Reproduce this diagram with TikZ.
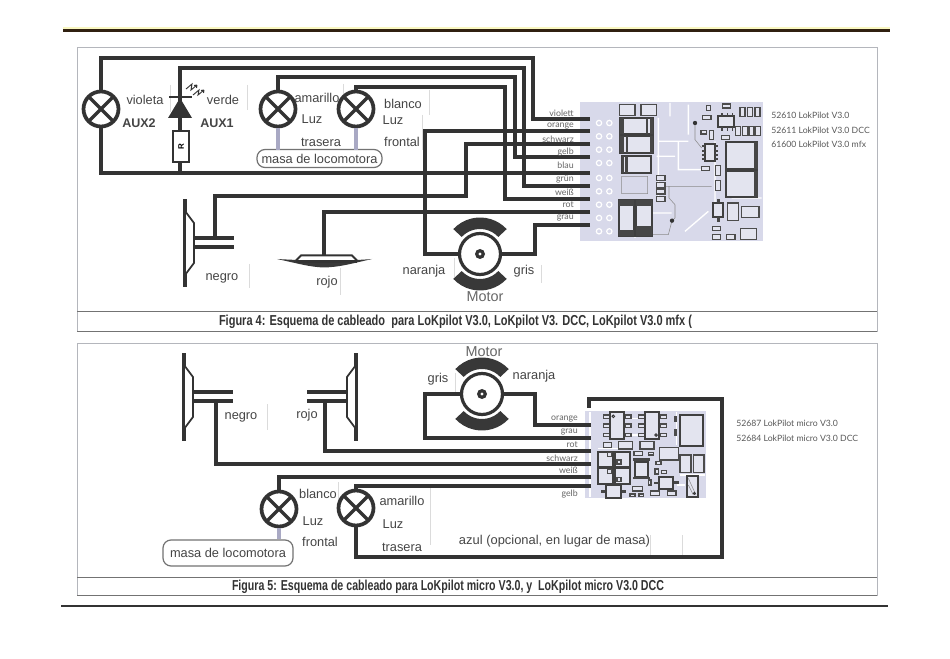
\documentclass[tikz,border=0pt]{standalone}
\usepackage{fontspec}
\usepackage{graphicx}
\setmainfont{Liberation Sans}
\newfontfamily\partfont{Lato}
\definecolor{ink}{HTML}{333333}
\definecolor{txt}{HTML}{454545}
\definecolor{pcb}{HTML}{D8D9EA}
\definecolor{chip}{HTML}{E3E4EF}
\definecolor{gnd}{HTML}{A9A9C4}
\definecolor{frm}{HTML}{B4B6BC}
\tikzset{
  wire/.style={line width=2.6pt,draw=ink,line join=miter},
  gndwire/.style={line width=2.4pt,draw=gnd},
  lamp/.style={circle,draw=ink,line width=2.8pt,fill=white,minimum size=35*0.75pt,inner sep=0pt,
    path picture={\draw[ink,line width=2.6pt] (path picture bounding box.north west)--(path picture bounding box.south east)
      (path picture bounding box.north east)--(path picture bounding box.south west);}},
  motorbody/.style={circle,draw=ink,line width=2.4pt,fill=white,minimum size=41*0.75pt,inner sep=0pt},
  lab/.style={font=\fontsize{9.6}{11}\selectfont,text=txt,inner sep=0pt},
  motorlab/.style={font=\fontsize{10.8}{12}\selectfont,text=black!60,inner sep=0pt},
  auxlab/.style={font=\fontsize{9.4}{11}\bfseries\selectfont,text=txt,inner sep=0pt},
  pinlab/.style={font=\partfont\fontsize{6.6}{8}\selectfont,text=black!60,inner sep=0pt,anchor=east},
  partlab/.style={font=\partfont\fontsize{6.5}{8}\selectfont,text=black!65,inner sep=0pt,anchor=west},
  captext/.style={font=\fontsize{10.8}{12}\bfseries\selectfont,text=black!80,inner sep=0pt},
  massbox/.style={draw=black!55,line width=0.9pt,rounded corners=6pt,fill=white,lab},
  cmp/.style={draw=black!70,line width=0.9pt,fill=chip},
  cmpd/.style={draw=black!75,line width=1.4pt,fill=chip},
  dark/.style={fill=black!72,draw=none},
  trace/.style={draw=white,line width=1pt},
  thin trace/.style={draw=black!45,line width=0.4pt},
  scan/.style={draw=black!14,line width=0.4pt},
  frm line/.style={draw=frm,line width=0.6pt},
  capline/.style={draw=black!55,line width=0.7pt},
  spk/.pic={
    \fill[ink] (-2.3,-44) rectangle (2.3,44);
    \fill[white,draw=ink,line width=1.3pt] (0,-32) -- (9,-20) -- (9,20) -- (0,32) -- cycle;
    \draw[ink,line width=2.8pt] (9,-5) -- (49,-5) (9,4) -- (49,4);
  },
  magnets/.pic={
    \fill[black!78] (-43:36.5) arc[start angle=-43,end angle=-137,radius=36.5] -- (-137:25) arc[start angle=-137,end angle=-43,radius=25] -- cycle;
    \fill[black!78] (43:36.5) arc[start angle=43,end angle=137,radius=36.5] -- (137:25) arc[start angle=137,end angle=43,radius=25] -- cycle;
    \fill[ink] (0,0) circle (5);
    \fill[white] (0,0) circle (1.7);
  },
}
\begin{document}
\begin{tikzpicture}[x=0.75pt,y=-0.75pt]
\useasboundingbox (0,0) rectangle (950,659);
\fill[white] (0,0) rectangle (950,659);
% page rules
\fill[black!10!yellow!25!white] (63,27.5) rectangle (890,29);
\draw[line width=1.9pt,draw=black!75!brown] (63,30.5) -- (890,30.5);
\draw[line width=0.8pt,draw=black!80] (61,606) -- (888,606);
% panel frames
\draw[frm line] (77,47) rectangle (877,331);
\draw[capline] (77,311) -- (877,311);
\draw[capline] (77,331) -- (877,331);
\draw[frm line] (77,343) rectangle (877,595);
\draw[capline] (77,577) -- (877,577);
\draw[capline] (77,595) -- (877,595);
% scan marks
\foreach \a/\b/\c in {170/85/112,247/85/110,343/84/100,429/90/115,422/115/150,249/264/288,340/268/295,454/258/280,541/265/283,267/404/430,455/373/392,338/482/500,430/487/545,650/535/558,682/535/558}
  \draw[scan] (\a,\b) -- (\a,\c);
%
% ---------- Figure 4 board ----------
\fill[pcb] (580,102) rectangle (763,241);
\begin{scope}[shift={(575,98)},x=0.25pt,y=-0.25pt]
  \draw[trace] (250,60) -- (250,300) (250,130) -- (340,130) (310,130) -- (310,215) -- (390,215)
     (245,175) -- (300,175) (340,20) -- (340,110) (285,15) -- (285,55) (420,130) -- (420,340) (330,400) -- (400,340)
     (470,300) -- (560,300) (230,345) -- (290,345) (180,330) -- (180,420);
  \foreach \y in {60,100,140,180,225,265,305,345,385}{
    \draw[white,line width=0.9pt] (72,\y+15) circle (8); \draw[white,line width=0.9pt] (103,\y+15) circle (8);}
  \draw[thin trace] (282,265) -- (282,300) -- (300,320) -- (300,360) -- (291,368) -- (280,410) -- (232,410)
     (270,265) -- (410,265) (360,75) -- (360,125) -- (380,150) (140,235) rectangle (218,287);
  \fill[black!80] (291,368) circle (6.5) (360,75) circle (6.5);
  \foreach \a/\b/\c/\d in {133/20/180/52,198/20/245/52,245/233/270/248,245/253/270/268,245/273/270/288,245/296/270/311,
     394/22/406/38,383/52/408/65,442/18/466/30,378/97/395/108,403/98/416/124,440/112/463/125,380/205/404/217,422/203/436/232,422/248/436/277,
     495/28/510/55,517/28/532/55,540/28/555/55,482/85/497/112,503/85/518/112,522/85/537/112,541/85/556/112,
     458/315/490/368,500/325/552/358,412/385/437/398,412/410/437/425,455/410/480/425,497/392/545/425}
     \draw[cmp] (\a,\b) rectangle (\c,\d);
  \foreach \a/\b/\c/\d in {135/60/235/108,135/115/235/165,140/175/228/225,132/306/178/415,184/306/230/415,453/133/545/212,453/218/545/298,415/315/445/358,428/55/478/88,390/138/420/188}
     \draw[cmpd] (\a,\b) rectangle (\c,\d);
  \foreach \a/\b/\c/\d in {135/60/148/108,212/60/218/108,226/60/235/108,135/115/146/165,152/115/160/165,226/115/235/165,140/175/146/225,150/175/160/225,
     132/306/178/325,132/395/178/415,184/306/230/325,184/385/230/415,537/133/548/212,537/218/548/298,425/304/435/315,425/358/435/372,
     438/45/443/55,455/45/460/55,470/45/475/55,438/88/443/98,455/88/460/98,470/88/475/98}
     \fill[dark] (\a,\b) rectangle (\c,\d);
  \foreach \y in {145,158,171,184}{\fill[dark] (380,\y-3) rectangle (390,\y+3); \fill[dark] (420,\y-3) rectangle (430,\y+3);}
\end{scope}
%
% ---------- Figure 4 devices ----------
\node[lamp] (aux2) at (101,109) {};
\node[lamp] (rear) at (278,109) {};
\node[lamp] (front) at (356,109) {};
\coordinate (ledtop) at (180,97);
\node[massbox,minimum width=125*0.75pt,minimum height=18*0.75pt] (mass1) at (319.5,158.5) {masa de locomotora};
\coordinate (p1) at (590,119);\coordinate (p2) at (590,131);\coordinate (p3) at (590,144);
\coordinate (p4) at (590,157);\coordinate (p5) at (590,173);\coordinate (p6) at (590,186);
\coordinate (p7) at (590,199);\coordinate (p8) at (590,212);\coordinate (p9) at (590,225);
\node[motorbody] (mot1) at (480,254) {};
\pic at (480,254) {magnets};
\coordinate (spk1w) at (215,238);
\coordinate (rojo1) at (324,255);
% wires
\draw[wire] (aux2.north) -- (101,58) -- (533,58) -- (533,119) -- (p1);
\draw[wire] (ledtop) -- (180,68) -- (524,68) -- (524,186) -- (p6);
\draw[wire] (rear.north) -- (278,77) -- (515,77) -- (515,157) -- (p4);
\draw[wire] (front.north) -- (356,87) -- (505,87) -- (505,199) -- (p7);
\draw[wire] (aux2.south) -- (101,173) -- (p5);
\draw[wire] (ledtop) -- (180,173);
\node[draw=ink,line width=1.3pt,fill=white,minimum width=16*0.75pt,minimum height=31*0.75pt,inner sep=0pt,font=\fontsize{6}{7}\bfseries\selectfont] (res) at (181,146.5) {\rotatebox{90}{R}};
\draw[wire] (p2) -- (425,131) -- (425,254) -- (mot1.west);
\draw[wire] (p3) -- (466,144) -- (466,196) -- (215,196) -- (spk1w);
\draw[wire] (p8) -- (324,212) -- (rojo1);
\draw[wire] (p9) -- (535,225) -- (535,254) -- (mot1.east);
\draw[gndwire] (rear.south) -- (278,150);
\draw[gndwire] (front.south) -- (356,150);
% LED
\draw[ink,line width=2pt] (169,97) -- (192,97);
\fill[ink] (180,98) -- (192,118) -- (168,118) -- cycle;
\draw[ink,line width=0.7pt] (186,89) -- (192,84) -- (191,90) -- (197,85) (197,85) -- (194,85.5) (197,85) -- (196.5,88);
\draw[ink,line width=0.7pt] (193,95) -- (199,90) -- (198,95) -- (204,90) (204,90) -- (201,90.5) (204,90) -- (203.5,93);
% speakers
\pic at (185,243) {spk};
\fill[black!78] (277,259) .. controls (300,264) and (310,267) .. (324,267.5) .. controls (340,267) and (350,264) .. (372,259) .. controls (350,261) and (310,261) .. (277,259) -- cycle;
\draw[ink,line width=1.5pt] (296,260.5) -- (301,255.5) -- (352,255.5) -- (357,260.5);
\draw[ink,line width=2.4pt] (296,261.5) -- (357,261.5);
% labels
\node[lab] (t1) at (145,100) {violeta};
\node[auxlab] (t2) at (139,123) {AUX2};
\node[lab] (t3) at (223,100) {verde};
\node[auxlab] (t4) at (217,123) {AUX1};
\node[lab] (t5) at (317,98) {amarillo};
\node[lab] (t6) at (312,119) {Luz};
\node[lab] (t7) at (321,142) {trasera};
\node[lab] (t8) at (403,104) {blanco};
\node[lab] (t9) at (393,120) {Luz};
\node[lab] (t10) at (402,142) {frontal};
\node[lab] (t11) at (222,278) {negro};
\node[lab] (t12) at (327,282) {rojo};
\node[lab] (t13) at (424,271) {naranja};
\node[lab] (t14) at (524,271) {gris};
\node[motorlab] (t15) at (485,297) {Motor};
\node[pinlab] (n1) at (574,113) {violett};
\node[pinlab] (n2) at (574,126) {orange};
\node[pinlab] (n3) at (574,139) {schwarz};
\node[pinlab] (n4) at (574,152) {gelb};
\node[pinlab] (n5) at (574,165) {blau};
\node[pinlab] (n6) at (574,179) {grün};
\node[pinlab] (n7) at (574,192) {weiß};
\node[pinlab] (n8) at (574,205) {rot};
\node[pinlab] (n9) at (574,218) {grau};
\node[partlab] (a1) at (771,115) {52610 LokPilot V3.0};
\node[partlab] (a2) at (771,130) {52611 LokPilot V3.0 DCC};
\node[partlab] (a3) at (771,144) {61600 LokPilot V3.0 mfx};
\node[captext] (c4) at (455.5,322) {\resizebox{354.75pt}{\height}{Figura 4: Esquema de cableado\ \ para LoKpilot V3.0, LoKpilot V3. DCC, LoKpilot V3.0 mfx (}};
%
% ---------- Figure 5 board ----------
\fill[pcb] (585,411) rectangle (706,498);
\begin{scope}[shift={(580,405)},x=0.25pt,y=-0.25pt]
  \draw[trace] (55,130) -- (160,130) (290,20) -- (290,120) (150,40) -- (175,40) (150,90) -- (175,90) (300,210) -- (375,210) (290,240) -- (315,240) (30,20) -- (30,275);
  \foreach \a/\b/\c/\d in {70/30/88/40,70/57/88/67,70/85/88/95,135/30/153/40,135/57/153/67,135/85/153/95,
     175/30/193/40,175/57/193/67,175/85/193/95,240/30/260/40,240/57/260/67,240/85/260/95,
     285/35/290/50,285/75/290/92,70/112/95/127,115/110/157/132,180/110/222/132,238/128/296/165,300/150/333/203,340/150/372/203,
     162/140/187/152,205/142/220/150,228/170/243/178,225/192/235/207,245/197/260/205,205/225/213/240,158/245/187/258,150/267/165/275,177/267/190/275,212/258/238/272,262/258/288/272}
     \draw[cmp] (\a,\b) rectangle (\c,\d);
  \foreach \a/\b/\c/\d in {90/22/132/102,195/22/237/102,300/30/370/122,55/140/100/185,105/140/150/185,55/190/100/236,105/190/150/236,165/170/205/215,237/215/280/252,320/213/353/277,77/240/123/280}
     \draw[cmpd] (\a,\b) rectangle (\c,\d);
  \foreach \a/\b in {83/143,111/165,83/193,111/217}
     \draw[cmp] (\a,\b) rectangle ++(12,12);
  \draw[thin trace] (325,220) -- (348,270) (325,240) -- (340,270);
  \foreach \a/\b/\c/\d in {160/160/210/168,160/215/210/222,222/230/236/238,282/228/296/238,62/255/76/265,125/255/137/265}
     \fill[dark] (\a,\b) rectangle (\c,\d);
  \draw[black!80,line width=0.7pt] (100,34) circle (4) (228,90) circle (4) (343,265) circle (3);
\end{scope}
%
% ---------- Figure 5 devices ----------
\node[lamp] (front2) at (279,509) {};
\node[lamp] (rear2) at (356,508) {};
\node[motorbody] (mot2) at (482,394) {};
\pic at (482,394) {magnets};
\node[massbox,minimum width=130*0.75pt,minimum height=26*0.75pt] (mass2) at (228,553) {masa de locomotora};
\coordinate (q1) at (591,425);\coordinate (q2) at (591,438);\coordinate (q3) at (591,451);
\coordinate (q4) at (591,464);\coordinate (q5) at (591,477);\coordinate (q6) at (591,486);
\coordinate (q0) at (589,408);
\coordinate (spk2w) at (216,401);
\coordinate (spk3w) at (325,401);
\draw[wire] (q1) -- (535,425) -- (535,394) -- (mot2.east);
\draw[wire] (q2) -- (425,438) -- (425,394) -- (mot2.west);
\draw[wire] (q3) -- (325,451) -- (spk3w);
\draw[wire] (q4) -- (216,464) -- (spk2w);
\draw[wire] (q5) -- (279,477) -- (front2.north);
\draw[wire] (q6) -- (356,486) -- (rear2.north);
\draw[wire] (rear2.south) -- (356,557) -- (722,557) -- (722,399) -- (589,399) -- (q0);
\draw[gndwire] (front2.south) -- (mass2.north -| front2);
\pic at (184,397) {spk};
\pic[xscale=-1] at (356,397) {spk};
% labels
\node[motorlab] (u1) at (484,352) {Motor};
\node[lab] (u2) at (438,379) {gris};
\node[lab] (u3) at (534,376) {naranja};
\node[lab] (u4) at (241,417) {negro};
\node[lab] (u5) at (307,415) {rojo};
\node[lab] (u6) at (318,494) {blanco};
\node[lab] (u7) at (313,521) {Luz};
\node[lab] (u8) at (320,542) {frontal};
\node[lab] (u9) at (402,501) {amarillo};
\node[lab] (u10) at (393,524) {Luz};
\node[lab] (u11) at (402,547) {trasera};
\node[lab] (u12) at (554.5,541) {\resizebox{143.25pt}{\height}{azul (opcional, en lugar de masa)}};
\node[pinlab] (v1) at (578,419) {orange};
\node[pinlab] (v2) at (578,432) {grau};
\node[pinlab] (v3) at (578,445) {rot};
\node[pinlab] (v4) at (578,458) {schwarz};
\node[pinlab] (v5) at (578,470) {weiß};
\node[pinlab] (v6) at (578,494) {gelb};
\node[partlab] (b1) at (736,423) {52687 LokPilot micro V3.0};
\node[partlab] (b2) at (736,438) {52684 LokPilot micro V3.0 DCC};
\node[captext] (c5) at (448,587) {\resizebox{324pt}{\height}{Figura 5: Esquema de cableado para LoKpilot micro V3.0, y\ \ LoKpilot micro V3.0 DCC}};
\end{tikzpicture}
\end{document}
